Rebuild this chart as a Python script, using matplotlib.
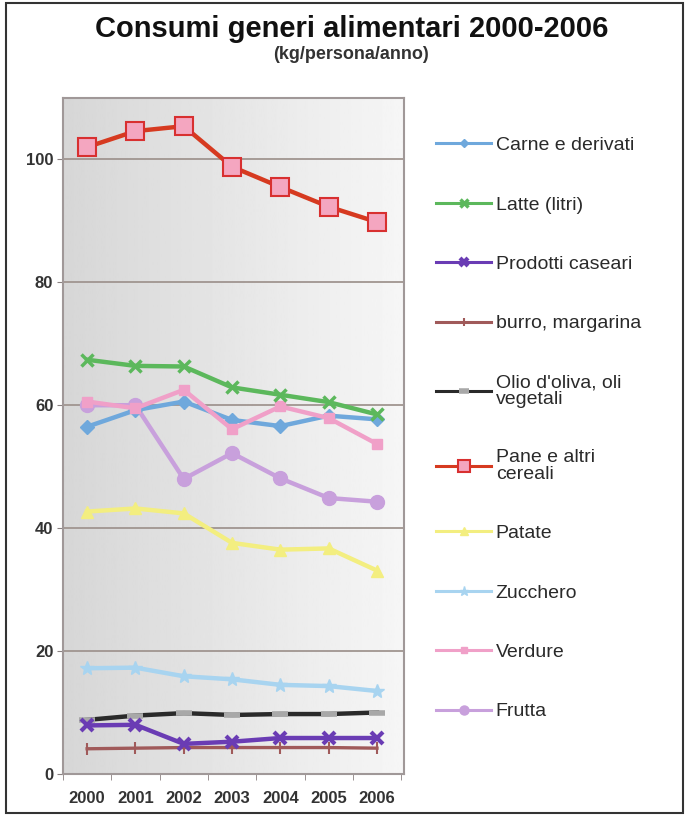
import numpy as np
import matplotlib
matplotlib.use('Agg')
import matplotlib.pyplot as plt
from matplotlib.patches import Rectangle

plt.rcParams['font.family'] = ['Liberation Sans', 'DejaVu Sans']

# Data (kg/persona/anno)
years = ['2000', '2001', '2002', '2003', '2004', '2005', '2006']
carne = [56.5, 59.2, 60.6, 57.6, 56.6, 58.3, 57.7]
latte = [67.4, 66.4, 66.3, 62.9, 61.7, 60.5, 58.5]
caseari = [7.9, 8.0, 4.9, 5.25, 5.85, 5.85, 5.85]
burro = [4.1, 4.2, 4.3, 4.3, 4.3, 4.3, 4.2]
olio = [8.8, 9.5, 9.9, 9.6, 9.75, 9.75, 10.0]
pane = [102.0, 104.6, 105.4, 98.8, 95.5, 92.3, 89.8]
patate = [42.7, 43.2, 42.4, 37.6, 36.5, 36.7, 33.1]
zucchero = [17.2, 17.3, 15.9, 15.4, 14.5, 14.3, 13.5]
verdure = [60.6, 59.5, 62.5, 56.1, 59.8, 57.9, 53.7]
frutta = [60.0, 60.0, 48.0, 52.2, 48.1, 44.9, 44.3]

labels = ['Carne e derivati', 'Latte (litri)', 'Prodotti caseari', 'burro, margarina',
          "Olio d'oliva, oli\nvegetali", 'Pane e altri\ncereali', 'Patate', 'Zucchero',
          'Verdure', 'Frutta']

fig = plt.figure(figsize=(6.89, 8.16), dpi=100)
ax = fig.add_axes([0.0914, 0.0515, 0.495, 0.8285])

# gradient background of the plot area
grad = np.linspace(0.84, 0.965, 256).reshape(1, -1)
ax.imshow(grad, cmap='gray', vmin=0, vmax=1, aspect='auto',
          extent=[0, 1, 0, 1], transform=ax.transAxes, zorder=0)

x = np.arange(len(years))
lw = 3.2
ax.plot(x, olio, color='#2a2a2a', lw=lw, marker='_', ms=12, mew=4, mec='#a8a8a8', zorder=3)
ax.plot(x, burro, color='#a05a5a', lw=2.4, marker='|', ms=9, mew=1.5, zorder=3)
ax.plot(x, caseari, color='#6a3cb4', lw=lw, marker='x', ms=9, mew=3, zorder=3)
ax.plot(x, zucchero, color='#a8d4f0', lw=lw, marker='*', ms=10, zorder=3)
ax.plot(x, patate, color='#f3ee80', lw=lw, marker='^', ms=8, zorder=3)
ax.plot(x, frutta, color='#c8a0dc', lw=lw, marker='o', ms=10, zorder=3)
ax.plot(x, carne, color='#6fa8dc', lw=lw, marker='D', ms=7, zorder=4)
ax.plot(x, verdure, color='#f0a0c8', lw=lw, marker='s', ms=7, zorder=4)
ax.plot(x, latte, color='#5cb85c', lw=lw, marker='x', ms=8, mew=2.5, zorder=5)
ax.plot(x, pane, color='#d63a20', lw=lw, marker='s', ms=13, mfc='#f4a6c0', mec='#d83030', mew=1.5, zorder=5)

ax.set_xlim(-0.47, 6.56)
ax.set_ylim(0, 110)
ax.set_yticks([0, 20, 40, 60, 80, 100])
ax.set_xticks(x)
ax.set_xticklabels(years)
ax.set_xticks(np.arange(-0.5, 6.6, 1), minor=True)
ax.grid(axis='y', color='#a09590', lw=1.3, zorder=1)
ax.tick_params(axis='x', which='major', length=0, pad=12)
ax.tick_params(axis='x', which='minor', length=4, color='#8a8080')
ax.tick_params(axis='y', length=4, color='#8a8080', pad=3)
for lab in ax.get_xticklabels() + ax.get_yticklabels():
    lab.set_fontweight('bold')
    lab.set_fontsize(12)
    lab.set_color('#333333')
for s in ax.spines.values():
    s.set_color('#a09898')
    s.set_linewidth(1.5)

# legend (handles taken from the plotted lines, in legend order)
order = [6, 8, 2, 1, 0, 9, 4, 3, 7, 5]
lines = ax.get_lines()
handles = [lines[i] for i in order]
leg = fig.legend(handles, labels, loc='upper left', bbox_to_anchor=(0.608, 0.854),
                 frameon=False, fontsize=14, handlelength=2.8, handletextpad=0.25,
                 labelspacing=2.15, labelcolor='#2a2a2a', markerscale=0.65)
for ln in leg.get_lines():
    ln.set_linewidth(2.2)
for t in leg.get_texts():
    t.set_linespacing(0.95)

fig.text(0.51, 0.964, 'Consumi generi alimentari 2000-2006', ha='center', va='center',
         fontsize=21, fontweight='bold', color='#111111')
fig.text(0.51, 0.933, '(kg/persona/anno)', ha='center', va='center',
         fontsize=13, fontweight='bold', color='#333333')

fig.patches.append(Rectangle((0.009, 0.004), 0.982, 0.992, transform=fig.transFigure,
                             fill=False, edgecolor='#333333', lw=1.5))

fig.savefig('out.png', dpi=100, facecolor='white')
